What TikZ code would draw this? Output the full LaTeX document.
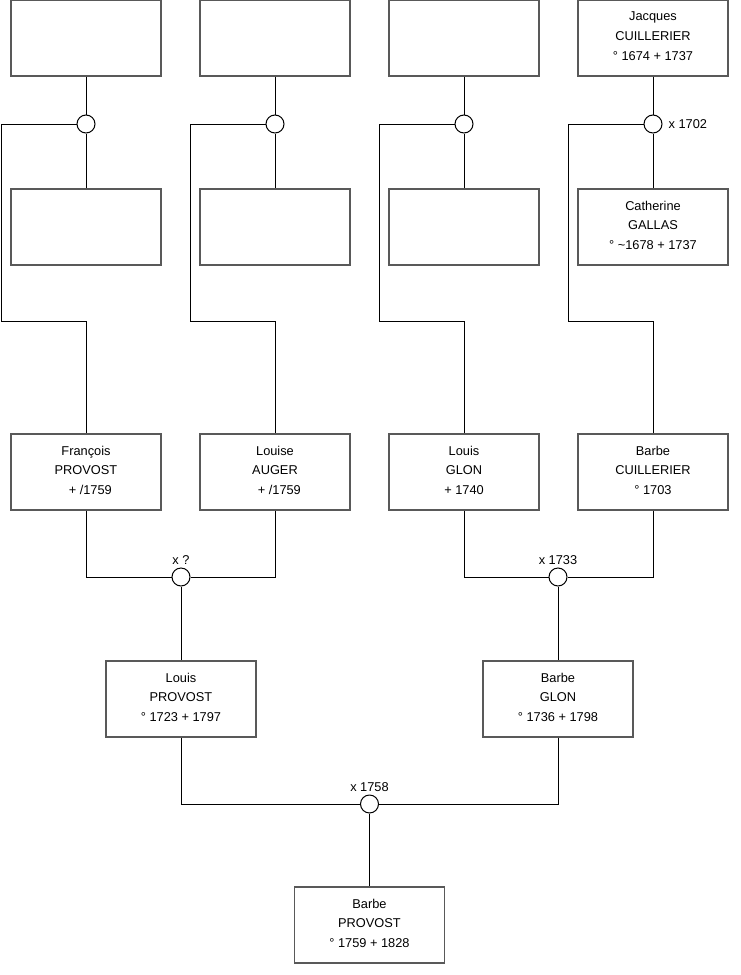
\documentclass[tikz,border=0pt]{standalone}
\usepackage{fontspec}
\setmainfont{Liberation Sans}
\newcommand{\upfix}{\\[-12pt]\mbox{}}
\begin{document}
\begin{tikzpicture}[x=0.75pt,y=-0.75pt,
  person/.style={draw=black!65,line width=0.9pt,fill=white,minimum width=112.5pt,minimum height=57pt,
    align=center,font=\fontsize{9.6}{14.8}\selectfont,inner sep=0pt},
  union/.style={circle,draw=black,line width=0.75pt,fill=white,minimum size=13.5pt,inner sep=0pt},
  lbl/.style={font=\fontsize{9.6}{11}\selectfont,inner sep=1pt},
  link/.style={draw=black,line width=0.75pt}]
\useasboundingbox (0,0) rectangle (740,975);
% generation 1
\node[person] (a1) at (86,38) {};
\node[person] (a2) at (275,38) {};
\node[person] (a3) at (464,38) {};
\node[person] (a4) at (653,38) {Jacques\\CUILLERIER\\° 1674 + 1737\upfix};
% generation 2
\node[person] (b1) at (86,227) {};
\node[person] (b2) at (275,227) {};
\node[person] (b3) at (464,227) {};
\node[person] (b4) at (653,227) {Catherine\\GALLAS\\° \textasciitilde1678 + 1737\upfix};
% unions row 1
\node[union] (u1) at (86,124) {};
\node[union] (u2) at (275,124) {};
\node[union] (u3) at (464,124) {};
\node[union] (u4) at (653,124) {};
\node[lbl,anchor=west] (l4) at (667,124) {x 1702};
% generation 3
\node[person] (c1) at (86,472) {François\\PROVOST\\\hspace*{6.5pt}+ /1759\upfix};
\node[person] (c2) at (275,472) {Louise\\AUGER\\\hspace*{6.5pt}+ /1759\upfix};
\node[person] (c3) at (464,472) {Louis\\GLON\\+ 1740\upfix};
\node[person] (c4) at (653,472) {Barbe\\CUILLERIER\\° 1703\upfix};
% unions row 2
\node[union] (v1) at (181,577) {};
\node[union] (v2) at (558,577) {};
\node[lbl,anchor=south] (lv1) at (181,566) {x ?};
\node[lbl,anchor=south] (lv2) at (558,566) {x 1733};
% generation 4
\node[person] (d1) at (181,699) {Louis\\PROVOST\\° 1723 + 1797\upfix};
\node[person] (d2) at (558,699) {Barbe\\GLON\\° 1736 + 1798\upfix};
% union row 3
\node[union] (w1) at (369.5,804) {};
\node[lbl,anchor=south] (lw1) at (369.5,793) {x 1758};
% generation 5
\node[person] (e1) at (369.5,925) {Barbe\\PROVOST\\° 1759 + 1828\upfix};
% bend coordinates
\coordinate (k1) at (1,321);
\coordinate (k2) at (190,321);
\coordinate (k3) at (379,321);
\coordinate (k4) at (568,321);
% connectors
\foreach \i in {1,2,3,4}{
  \draw[link] (a\i.south) -- (u\i.north);
  \draw[link] (u\i.south) -- (b\i.north);
  \draw[link] (u\i.west) -| (k\i) -| (c\i.north);
}
\draw[link] (c1.south) |- (v1.west);
\draw[link] (c2.south) |- (v1.east);
\draw[link] (v1.south) -- (d1.north);
\draw[link] (c3.south) |- (v2.west);
\draw[link] (c4.south) |- (v2.east);
\draw[link] (v2.south) -- (d2.north);
\draw[link] (d1.south) |- (w1.west);
\draw[link] (d2.south) |- (w1.east);
\draw[link] (w1.south) -- (e1.north);
\end{tikzpicture}
\end{document}
